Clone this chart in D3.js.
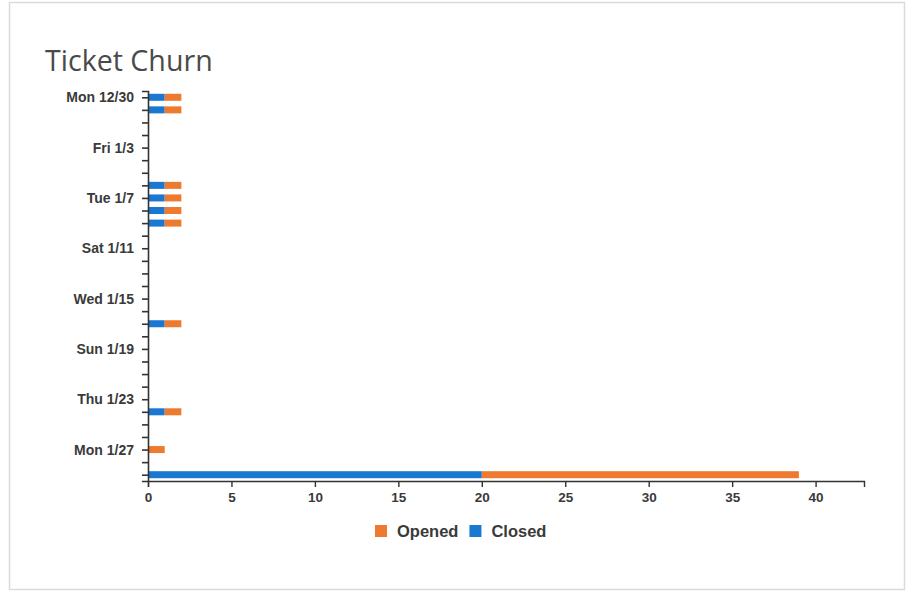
<!DOCTYPE html>
<html>
<head>
<meta charset="utf-8">
<script src="https://cdn.jsdelivr.net/npm/d3@7"></script>
<style>
  html, body { margin: 0; padding: 0; background: #fff; }
  svg { display: block; }
  .ax text { font-family: "Liberation Sans", Arial, sans-serif; font-weight: bold; fill: #3a3a3a; }
  .ax path, .ax line { stroke: #333; }
</style>
</head>
<body>
<svg id="chart" width="907" height="592"></svg>
<script>
// ---- data ----
const dates  = ["2019-12-30","2019-12-31","2020-01-06","2020-01-07","2020-01-08","2020-01-09","2020-01-17","2020-01-24","2020-01-27","2020-01-29"];
const closed = [1, 1, 1, 1, 1, 1, 1, 1, 0, 20];
const opened = [1, 1, 1, 1, 1, 1, 1, 1, 1, 19];
const seriesNames = ["Opened", "Closed"];
const xTicks = [0, 5, 10, 15, 20, 25, 30, 35, 40];
const domainStart = "2019-12-29T12:00";
const domainEnd   = "2020-01-29T12:00";

const colors = { Opened: "#ed7a2f", Closed: "#1a78d0" };

const svg = d3.select("#chart");
// card
svg.append("rect").attr("x", 9.5).attr("y", 2.5).attr("width", 895).attr("height", 587)
  .attr("fill", "#fff").attr("stroke", "#dadada").attr("stroke-width", 1.5);

svg.append("text").attr("x", 45).attr("y", 71)
  .style("font-family", "'Open Sans', 'Noto Sans', sans-serif").style("font-size", "28.6px")
  .style("fill", "#4a4a4a").text("Ticket Churn");

const parse = d3.timeParse("%Y-%m-%d");
const parseT = d3.timeParse("%Y-%m-%dT%H:%M");
const rows = dates.map((d, i) => ({ date: parse(d), Closed: closed[i], Opened: opened[i] }));

const mLeft = 148, mRight = 864, mTop = 91, mBottom = 481;
const maxTotal = d3.max(rows, r => r.Closed + r.Opened);
const x = d3.scaleLinear().domain([0, maxTotal * 1.1]).range([mLeft, mRight]);
const y = d3.scaleTime().domain([parseT(domainStart), parseT(domainEnd)]).range([mTop, mBottom]);

const stack = d3.stack().keys(["Closed", "Opened"]);
const layers = stack(rows);
const barH = 7;

svg.append("g").selectAll("g").data(layers).join("g")
  .attr("fill", d => colors[d.key])
  .selectAll("rect").data(d => d).join("rect")
  .attr("x", d => x(d[0]))
  .attr("width", d => Math.max(0, x(d[1]) - x(d[0])))
  .attr("y", d => y(d.data.date) - barH / 2)
  .attr("height", barH);

// y axis
const dayTicks = d3.timeDay.range(parse("2019-12-30"), d3.timeDay.offset(parse("2020-01-29"), 1));
const fmt = d3.timeFormat("%a %-m/%-d");
const yAxis = d3.axisLeft(y).tickValues(dayTicks).tickSize(6).tickSizeOuter(6).tickPadding(8)
  .tickFormat((d, i) => i % 4 === 0 ? fmt(d) : "");
svg.append("g").attr("class", "ax").attr("transform", `translate(${mLeft},0)`).call(yAxis)
  .call(g => g.selectAll("text").style("font-size", "14px"))
  .call(g => g.selectAll("path, line").attr("stroke-width", 1.6));

// x axis
const xAxis = d3.axisBottom(x).tickValues(xTicks).tickSize(6).tickSizeOuter(6);
svg.append("g").attr("class", "ax").attr("transform", `translate(0,${mBottom})`).call(xAxis)
  .call(g => g.selectAll("path, line").attr("stroke-width", 1.4))
  .call(g => g.selectAll("text").style("font-size", "13.5px").attr("dy", "0.9em"));

// legend
const legend = svg.append("g").attr("transform", "translate(375,531)");
let lx = 0;
seriesNames.forEach(name => {
  const g = legend.append("g").attr("transform", `translate(${lx},0)`);
  g.append("rect").attr("x", 0).attr("y", -6).attr("width", 12).attr("height", 12).attr("fill", colors[name]);
  const t = g.append("text").attr("x", 22).attr("y", 0).attr("dy", "0.36em")
    .style("font-family", "'Liberation Sans', Arial, sans-serif").style("font-weight", "bold")
    .style("font-size", "16.5px").style("fill", "#3a3a3a").text(name);
  lx += 22 + t.node().getComputedTextLength() + 11;
});
</script>
</body>
</html>
